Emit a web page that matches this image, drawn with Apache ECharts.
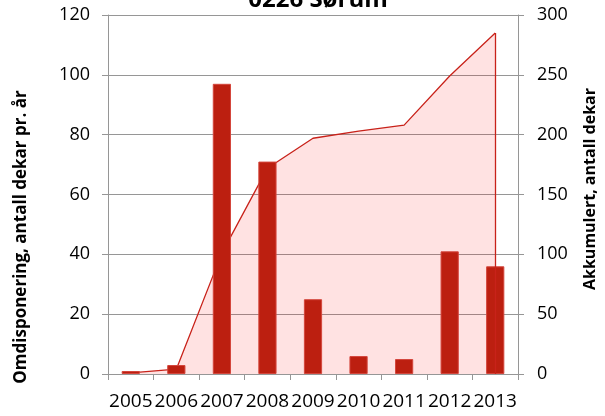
<!DOCTYPE html>
<html>
<head>
<meta charset="utf-8">
<script src="https://cdn.jsdelivr.net/npm/echarts@6/dist/echarts.min.js"></script>
<style>html,body{margin:0;padding:0;background:#fff}#c{width:605px;height:416px}</style>
</head>
<body>
<div id="c"></div>
<script>
var titleText = '0226 Sørum';
var years = ['2005','2006','2007','2008','2009','2010','2011','2012','2013'];
var perYear = [1, 3, 97, 71, 25, 6, 5, 41, 36];
var cumulative = [1, 4, 101, 172, 197, 203, 208, 249, 285];
var leftName = 'Omdisponering, antall dekar pr. år';
var rightName = 'Akkumulert, antall dekar';

var chart = echarts.init(document.getElementById('c'), null, {renderer: 'canvas'});
var tickFont = {fontFamily: 'Open Sans', fontSize: 18, color: '#000'};
var grey = '#969696';
chart.setOption({
  animation: false,
  title: {
    text: titleText, left: 313, top: -17, textAlign: 'center',
    textStyle: {fontFamily: 'Open Sans', fontWeight: 'bold', fontSize: 24, color: '#000'}
  },
  graphic: [
    {type: 'text', x: 21, y: 237, rotation: Math.PI / 2,
     style: {text: leftName, fontFamily: 'Open Sans', fontWeight: 'bold', fontSize: 17, fill: '#000', align: 'center', verticalAlign: 'middle'}},
    {type: 'text', x: 590, y: 189, rotation: Math.PI / 2,
     style: {text: rightName, fontFamily: 'Open Sans', fontWeight: 'bold', fontSize: 16, fill: '#000', align: 'center', verticalAlign: 'middle'}}
  ],
  grid: {left: 108, right: 87, top: 15, bottom: 42},
  xAxis: {
    type: 'category', data: years, boundaryGap: true,
    axisLine: {lineStyle: {color: grey, width: 1}},
    axisTick: {show: true, alignWithLabel: false, length: 6, lineStyle: {color: grey}},
    axisLabel: Object.assign({}, tickFont, {margin: 18, interval: 0, fontSize: 19})
  },
  yAxis: [
    {type: 'value', min: 0, max: 120, interval: 20, position: 'left',
     axisLine: {show: true, lineStyle: {color: grey}},
     axisTick: {show: true, length: 6, lineStyle: {color: grey}},
     splitLine: {show: true, lineStyle: {color: grey, width: 1}},
     axisLabel: Object.assign({margin: 18}, tickFont)},
    {type: 'value', min: 0, max: 300, interval: 50, position: 'right',
     axisLine: {show: true, lineStyle: {color: grey}},
     axisTick: {show: true, length: 6, lineStyle: {color: grey}},
     splitLine: {show: false},
     axisLabel: Object.assign({margin: 19}, tickFont)}
  ],
  series: [
    {type: 'line', yAxisIndex: 1, data: cumulative, symbol: 'none', z: 1,
     lineStyle: {color: '#c8221a', width: 1.3},
     areaStyle: {color: 'rgba(255,0,0,0.165)', origin: 'start'},
     markLine: {silent: true, symbol: 'none', label: {show: false},
       lineStyle: {color: '#c8221a', width: 1.3, type: 'solid'},
       data: [[{coord: [years[years.length - 1], 0]}, {coord: [years[years.length - 1], cumulative[cumulative.length - 1]]}]]}
    },
    {type: 'bar', yAxisIndex: 0, data: perYear, barWidth: '40%', z: 3,
     itemStyle: {color: '#bc1f10', borderColor: '#d4463c', borderWidth: 1}}
  ]
});
</script>
</body>
</html>
